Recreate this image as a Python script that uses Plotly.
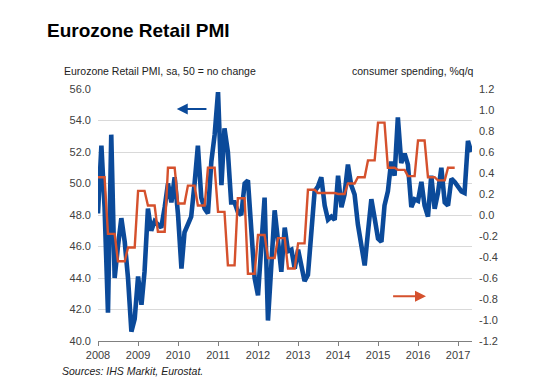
import pandas as pd
import plotly.graph_objects as go

# Monthly Eurozone Retail PMI, Jan 2008 - May 2017
pmi = [
    48.1, 52.4, 48.5, 41.8, 53.1, 44.0, 46.0, 47.8, 46.3, 44.0, 40.6, 41.4,
    44.1, 42.3, 44.4, 48.4, 47.0, 47.6, 47.4, 47.2, 48.5, 50.0, 48.8, 50.4,
    48.0, 44.6, 46.9, 47.4, 47.9, 50.0, 52.4, 49.1, 48.4, 48.1, 51.4, 53.1,
    55.8, 49.9, 53.5, 52.0, 48.8, 48.8, 48.2, 48.0, 50.0, 50.2, 46.5, 44.0,
    42.9, 46.3, 49.1, 41.3, 45.0, 48.3, 46.4, 44.4, 47.2, 45.7, 45.8, 44.6,
    45.8, 44.9, 43.8, 44.2, 47.3, 49.5, 49.8, 50.4, 48.6, 47.7, 47.9, 47.7,
    50.5, 48.5, 49.3, 51.2, 49.9, 49.3, 47.4, 45.9, 44.8, 46.9, 49.0, 47.8,
    46.5, 46.3, 48.6, 49.5, 51.4, 50.5, 54.2, 51.3, 51.9, 51.2, 48.5, 49.0,
    48.9, 50.1, 48.6, 47.9, 50.5, 48.4, 49.4, 51.0, 48.8, 48.6, 50.3, 50.1,
    49.8, 49.5, 49.4, 52.7, 52.0,
]
pmi_months = pd.date_range("2008-01-01", periods=len(pmi), freq="MS")

# Quarterly consumer spending, %q/q, Q1 2008 - Q4 2016
spending = [
    0.36, -0.18, -0.44, -0.31,
    0.23, 0.09, -0.16, 0.45,
    0.11, 0.28, 0.09, 0.45,
    0.03, -0.48, 0.16, -0.56,
    -0.19, -0.41, -0.22, -0.51,
    -0.27, 0.24, 0.21, 0.21,
    0.20, 0.30, 0.36, 0.52,
    0.88, 0.45, 0.43, 0.37,
    0.71, 0.36, 0.33, 0.45,
]
spend_months = pd.date_range("2008-01-01", periods=len(spending) * 3, freq="MS")
spend_monthly = [v for v in spending for _ in range(3)]

year_ticks = [f"{y}-01-01" for y in range(2008, 2018)]
year_labels = [str(y) for y in range(2008, 2018)]
left_ticks = [40, 42, 44, 46, 48, 50, 52, 54, 56]
left_labels = ["40.0", "42.0", "44.0", "46.0", "48.0", "50.0", "52.0", "54.0", "56.0"]
right_ticks = [-1.2, -1.0, -0.8, -0.6, -0.4, -0.2, 0.0, 0.2, 0.4, 0.6, 0.8, 1.0, 1.2]
right_labels = ["-1.2", "-1.0", "-0.8", "-0.6", "-0.4", "-0.2", "0.0",
                "0.2", "0.4", "0.6", "0.8", "1.0", "1.2"]

BLUE = "#0B4A9A"
RED = "#D5512D"
FONT = "Liberation Sans, Arial, sans-serif"
TICKC = "#404040"
OFF = 8  # page body margin

fig = go.Figure()
fig.add_trace(go.Scatter(x=spend_months, y=spend_monthly, yaxis="y2", mode="lines",
                         line=dict(color=RED, width=2.4), showlegend=False))
fig.add_trace(go.Scatter(x=pmi_months, y=pmi, mode="lines",
                         line=dict(color=BLUE, width=4.6), showlegend=False))

fig.update_layout(
    width=544, height=390,
    margin=dict(l=98 - OFF, r=72 + OFF, t=89 - OFF, b=49 + OFF),
    paper_bgcolor="white", plot_bgcolor="white",
    font=dict(family=FONT, size=11, color=TICKC),
    title=dict(text="<b>Eurozone Retail PMI</b>", x=(47 - OFF) / 544, xanchor="left",
               y=1 - (30 - OFF) / 390, yanchor="middle", xref="container", yref="container",
               font=dict(family=FONT, size=19, color="#000000")),
    xaxis=dict(type="date", range=["2008-01-01", "2017-05-08"],
               tickvals=year_ticks, ticktext=year_labels,
               showgrid=False, showline=True, linecolor="#808080", linewidth=1,
               ticks="outside", ticklen=4, tickcolor="#808080",
               tickfont=dict(size=11, color=TICKC), zeroline=False),
    yaxis=dict(range=[40, 56], tickvals=left_ticks, ticktext=left_labels,
               showgrid=True, gridcolor="#D9D9D9", gridwidth=1, zeroline=False,
               showline=False, ticks="", ticklabelstandoff=6,
               tickfont=dict(size=11, color=TICKC)),
    yaxis2=dict(range=[-1.2, 1.2], tickvals=right_ticks, ticktext=right_labels,
                overlaying="y", side="right", showgrid=False, zeroline=False,
                showline=False, ticks="", ticklabelstandoff=6,
                tickfont=dict(size=11, color=TICKC)),
)

pw, ph = 374, 252
def px(x):
    return (x - 98) / pw
def py(y):
    return (341 - y) / ph

fig.add_annotation(text="Eurozone Retail PMI, sa, 50 = no change", xref="paper", yref="paper",
                   x=px(62), y=py(71), xanchor="left", yanchor="middle", showarrow=False,
                   font=dict(family=FONT, size=10.5, color="#222222"))
fig.add_annotation(text="consumer spending, %q/q", xref="paper", yref="paper",
                   x=px(476), y=py(71), xanchor="right", yanchor="middle", showarrow=False,
                   font=dict(family=FONT, size=10.5, color="#222222"))
fig.add_annotation(text="<i>Sources: IHS Markit, Eurostat.</i>", xref="paper", yref="paper",
                   x=px(60), y=py(371), xanchor="left", yanchor="middle", showarrow=False,
                   font=dict(family=FONT, size=10.5, color="#222222"))

# legend arrows
fig.add_annotation(x="2009-12-20", y=54.73, ax="2010-10-01", ay=54.73, xref="x", yref="y",
                   axref="x", ayref="y", text="", showarrow=True, arrowhead=2,
                   arrowsize=1.1, arrowwidth=2, arrowcolor=BLUE)
fig.add_annotation(x="2016-03-14", y=42.84, ax="2015-05-05", ay=42.84, xref="x", yref="y",
                   axref="x", ayref="y", text="", showarrow=True, arrowhead=2,
                   arrowsize=1.1, arrowwidth=2, arrowcolor=RED)

fig.write_html("out.html")
